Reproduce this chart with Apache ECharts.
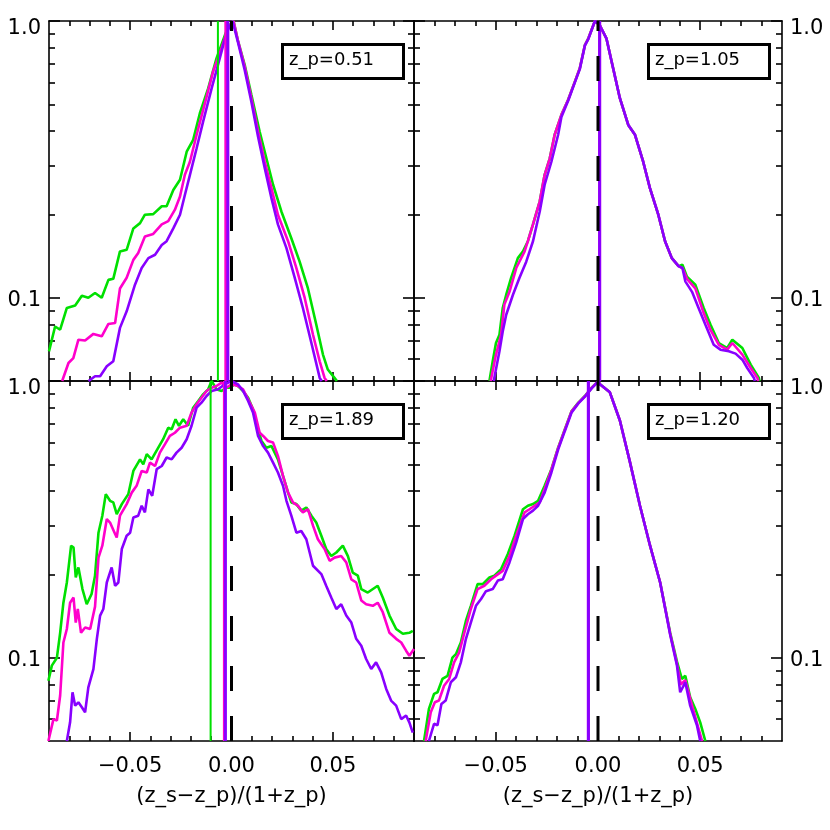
<!DOCTYPE html>
<html>
<head>
<meta charset="utf-8">
<script src="https://cdn.jsdelivr.net/npm/echarts@6/dist/echarts.min.js"></script>
<style>html,body{margin:0;padding:0;background:#fff}#c{width:830px;height:830px}</style>
</head>
<body>
<div id="c"></div>
<script>
// ---- tick values / labels ----
const xMajorTicks = [-0.05, 0, 0.05];
const xMinorTicks = [-0.08,-0.07,-0.06,-0.04,-0.03,-0.02,-0.01,0.01,0.02,0.03,0.04,0.06,0.07,0.08];
const yMajorTicks = [0.1, 1];
const yMinorTicks = [0.06,0.07,0.08,0.09,0.2,0.3,0.4,0.5,0.6,0.7,0.8,0.9];
const xTitle = '(z_s\u2212z_p)/(1+z_p)';
const panelLabels = ['z_p=0.51', 'z_p=1.05', 'z_p=1.89', 'z_p=1.20'];
const seriesColors = ['#00E000', '#FF00CC', '#8800FF'];

// ---- panel 1 (z_p=0.51) ----
const p1Green = [[-0.090,0.064],[-0.087,0.0787],[-0.0845,0.0766],[-0.0812,0.0918],[-0.0771,0.0938],[-0.0738,0.1016],[-0.0706,0.100],[-0.0673,0.104],[-0.064,0.100],[-0.0607,0.116],[-0.0583,0.117],[-0.055,0.147],[-0.0517,0.149],[-0.0484,0.178],[-0.0451,0.186],[-0.0427,0.1995],[-0.0386,0.2005],[-0.0344,0.214],[-0.032,0.214],[-0.0287,0.245],[-0.0254,0.267],[-0.0221,0.337],[-0.0189,0.372],[-0.0156,0.464],[-0.0115,0.571],[-0.0074,0.733],[-0.0041,0.854],[-0.0017,0.954],[0.001,1.0],[0.0033,0.842],[0.0065,0.694],[0.0098,0.541],[0.0139,0.398],[0.0172,0.319],[0.0205,0.256],[0.0246,0.205],[0.0295,0.164],[0.0336,0.135],[0.0377,0.108],[0.0418,0.080],[0.0451,0.0623],[0.0475,0.055],[0.0508,0.0513],[0.052,0.05]];
const p1Magenta = [[-0.0835,0.05],[-0.0804,0.0581],[-0.078,0.0605],[-0.0755,0.0705],[-0.0722,0.070],[-0.0681,0.074],[-0.064,0.0725],[-0.0607,0.0804],[-0.0574,0.081],[-0.055,0.108],[-0.0517,0.118],[-0.0484,0.137],[-0.046,0.145],[-0.0427,0.1665],[-0.0386,0.170],[-0.0344,0.184],[-0.0312,0.189],[-0.0279,0.208],[-0.0254,0.232],[-0.023,0.278],[-0.0205,0.310],[-0.0172,0.388],[-0.0131,0.505],[-0.0091,0.656],[-0.0049,0.797],[-0.0017,0.941],[0.001,1.0],[0.0033,0.842],[0.0065,0.684],[0.0098,0.526],[0.0131,0.398],[0.0164,0.310],[0.0197,0.249],[0.0229,0.1995],[0.0279,0.160],[0.032,0.128],[0.0361,0.0998],[0.0402,0.0735],[0.0435,0.0589],[0.0459,0.0513],[0.047,0.05]];
const p1Purple = [[-0.0705,0.05],[-0.0673,0.052],[-0.0648,0.052],[-0.0615,0.0565],[-0.0583,0.0589],[-0.055,0.0778],[-0.0517,0.0893],[-0.0476,0.1114],[-0.0443,0.128],[-0.041,0.139],[-0.0377,0.143],[-0.0344,0.155],[-0.032,0.160],[-0.0287,0.178],[-0.0254,0.1995],[-0.023,0.235],[-0.0205,0.278],[-0.0172,0.347],[-0.014,0.433],[-0.0098,0.571],[-0.0058,0.733],[-0.0025,0.903],[0.0005,1.0],[0.0033,0.831],[0.0065,0.665],[0.0098,0.511],[0.0131,0.382],[0.0164,0.294],[0.0197,0.229],[0.0229,0.184],[0.0271,0.151],[0.0312,0.118],[0.0352,0.0918],[0.0394,0.0686],[0.0435,0.0513],[0.0445,0.05]];
const p1Peaks = [-0.0067, -0.0028, -0.0018];

// ---- panel 2 (z_p=1.05) ----
const p2Green = [[-0.0531,0.05],[-0.0515,0.0589],[-0.0499,0.0686],[-0.0482,0.0735],[-0.0466,0.0918],[-0.0449,0.1025],[-0.0425,0.118],[-0.0392,0.139],[-0.0367,0.147],[-0.0343,0.160],[-0.0318,0.184],[-0.0285,0.223],[-0.0261,0.278],[-0.0236,0.319],[-0.0212,0.388],[-0.0179,0.458],[-0.0146,0.519],[-0.0113,0.604],[-0.0089,0.675],[-0.0064,0.819],[-0.0047,0.866],[-0.0015,1.0],[0.0008,0.967],[0.0041,0.866],[0.0074,0.675],[0.0107,0.526],[0.0148,0.421],[0.0181,0.388],[0.0221,0.310],[0.0254,0.249],[0.0295,0.1995],[0.0328,0.160],[0.0361,0.139],[0.0394,0.130],[0.0413,0.1315],[0.0435,0.119],[0.0476,0.1114],[0.0517,0.0918],[0.055,0.080],[0.0591,0.0686],[0.0632,0.0658],[0.0657,0.0705],[0.0706,0.0658],[0.0747,0.0573],[0.0787,0.0513],[0.079,0.05]];
const p2Magenta = [[-0.0525,0.05],[-0.0499,0.0623],[-0.0474,0.0735],[-0.0458,0.0944],[-0.0433,0.105],[-0.040,0.128],[-0.0359,0.147],[-0.0343,0.160],[-0.0318,0.184],[-0.0285,0.223],[-0.0261,0.278],[-0.0236,0.319],[-0.0212,0.388],[-0.0179,0.458],[-0.0146,0.519],[-0.0113,0.604],[-0.0089,0.675],[-0.0064,0.819],[-0.0047,0.866],[-0.0015,1.0],[0.0008,0.967],[0.0041,0.866],[0.0074,0.675],[0.0107,0.526],[0.0148,0.421],[0.0181,0.388],[0.0221,0.310],[0.0254,0.249],[0.0295,0.1995],[0.0328,0.160],[0.0361,0.139],[0.0394,0.130],[0.0413,0.128],[0.0435,0.117],[0.0476,0.108],[0.0517,0.088],[0.055,0.0766],[0.0591,0.0676],[0.0632,0.0649],[0.0657,0.0686],[0.0706,0.0623],[0.0747,0.0557],[0.078,0.0513],[0.0783,0.05]];
const p2Purple = [[-0.051,0.05],[-0.0482,0.064],[-0.0466,0.0755],[-0.0449,0.0868],[-0.0416,0.1025],[-0.0384,0.118],[-0.0351,0.135],[-0.0318,0.160],[-0.0285,0.205],[-0.0261,0.256],[-0.0228,0.310],[-0.0195,0.388],[-0.0179,0.450],[-0.0146,0.515],[-0.0113,0.600],[-0.0089,0.670],[-0.0064,0.815],[-0.0047,0.862],[-0.0015,1.0],[0.0008,0.967],[0.0041,0.866],[0.0074,0.675],[0.0107,0.526],[0.0148,0.421],[0.0181,0.388],[0.0221,0.310],[0.0254,0.249],[0.0295,0.1995],[0.0328,0.160],[0.0361,0.139],[0.0394,0.130],[0.0413,0.128],[0.0427,0.1146],[0.046,0.105],[0.0492,0.0918],[0.0525,0.080],[0.0566,0.0676],[0.0599,0.0649],[0.064,0.064],[0.0673,0.0628],[0.0706,0.0597],[0.073,0.0557],[0.0763,0.0513],[0.0767,0.05]];
const p2Peaks = [0.0008, 0.0008, 0.0008];

// ---- panel 3 (z_p=1.89) ----
const p3Green = [[-0.0903,0.0826],[-0.0886,0.0936],[-0.0861,0.100],[-0.0845,0.123],[-0.0829,0.158],[-0.0812,0.187],[-0.0791,0.254],[-0.0779,0.250],[-0.0768,0.195],[-0.0755,0.212],[-0.0735,0.177],[-0.0714,0.156],[-0.069,0.170],[-0.0673,0.198],[-0.0656,0.283],[-0.0637,0.326],[-0.062,0.390],[-0.0599,0.369],[-0.0583,0.364],[-0.0566,0.330],[-0.0541,0.359],[-0.0509,0.390],[-0.0484,0.473],[-0.0451,0.521],[-0.0435,0.500],[-0.0418,0.544],[-0.0394,0.521],[-0.0361,0.574],[-0.0337,0.616],[-0.0312,0.678],[-0.0295,0.669],[-0.0276,0.727],[-0.0259,0.689],[-0.0238,0.727],[-0.0214,0.689],[-0.0189,0.801],[-0.0164,0.847],[-0.014,0.895],[-0.0115,0.933],[-0.0098,1.0],[-0.0074,0.933],[-0.0049,0.920],[-0.0025,0.946],[-0.0008,0.946],[0.0016,0.973],[0.0032,0.959],[0.0057,0.920],[0.0082,0.870],[0.0106,0.790],[0.0131,0.669],[0.0148,0.607],[0.0172,0.574],[0.0197,0.582],[0.0229,0.521],[0.0254,0.454],[0.0279,0.395],[0.0295,0.364],[0.032,0.359],[0.0344,0.340],[0.0369,0.349],[0.0394,0.326],[0.0418,0.308],[0.0443,0.276],[0.0467,0.247],[0.0492,0.233],[0.0517,0.240],[0.0549,0.254],[0.0574,0.233],[0.0598,0.203],[0.0623,0.198],[0.064,0.177],[0.0672,0.172],[0.0721,0.182],[0.0746,0.165],[0.0779,0.142],[0.0812,0.127],[0.0845,0.122],[0.0877,0.123],[0.0894,0.125]];
const p3Magenta = [[-0.0903,0.05],[-0.0878,0.060],[-0.0861,0.0593],[-0.0845,0.073],[-0.0829,0.1135],[-0.0812,0.127],[-0.0796,0.158],[-0.0779,0.165],[-0.0768,0.134],[-0.0758,0.150],[-0.0742,0.123],[-0.0722,0.1285],[-0.0697,0.127],[-0.0673,0.153],[-0.0656,0.230],[-0.0637,0.254],[-0.0615,0.317],[-0.0599,0.308],[-0.0574,0.280],[-0.0566,0.272],[-0.055,0.326],[-0.0517,0.359],[-0.0492,0.395],[-0.0468,0.418],[-0.0443,0.473],[-0.0418,0.467],[-0.0402,0.507],[-0.0377,0.493],[-0.0353,0.551],[-0.0328,0.591],[-0.0304,0.633],[-0.0279,0.650],[-0.0254,0.678],[-0.0221,0.689],[-0.0197,0.769],[-0.0172,0.824],[-0.0148,0.870],[-0.0123,0.920],[-0.0098,0.946],[-0.0074,0.959],[-0.0049,0.986],[-0.0025,0.946],[0.0,0.973],[0.0032,0.959],[0.0057,0.933],[0.0082,0.859],[0.0115,0.769],[0.0139,0.650],[0.0156,0.633],[0.018,0.607],[0.0205,0.599],[0.0229,0.536],[0.0254,0.454],[0.0279,0.395],[0.0303,0.364],[0.0328,0.354],[0.0352,0.335],[0.0377,0.344],[0.0402,0.300],[0.0426,0.268],[0.0459,0.247],[0.0484,0.224],[0.0508,0.230],[0.0541,0.233],[0.0566,0.221],[0.0591,0.192],[0.0615,0.187],[0.064,0.161],[0.0664,0.156],[0.0697,0.154],[0.0721,0.158],[0.0746,0.146],[0.0779,0.123],[0.0812,0.117],[0.0837,0.1135],[0.0861,0.106],[0.0877,0.1016],[0.090,0.1075]];
const p3Purple = [[-0.0812,0.05],[-0.0796,0.0584],[-0.0784,0.075],[-0.0771,0.0671],[-0.0755,0.069],[-0.0738,0.0662],[-0.0722,0.0635],[-0.0706,0.0781],[-0.0681,0.091],[-0.0664,0.117],[-0.0648,0.142],[-0.0632,0.150],[-0.0615,0.187],[-0.0591,0.212],[-0.0574,0.182],[-0.0558,0.187],[-0.0541,0.247],[-0.0517,0.276],[-0.050,0.283],[-0.0484,0.321],[-0.046,0.326],[-0.0443,0.354],[-0.0427,0.335],[-0.041,0.406],[-0.0391,0.385],[-0.0369,0.480],[-0.0344,0.493],[-0.032,0.529],[-0.0295,0.521],[-0.0271,0.551],[-0.0246,0.574],[-0.0221,0.616],[-0.0197,0.689],[-0.0172,0.801],[-0.0148,0.835],[-0.0123,0.883],[-0.0098,0.920],[-0.0066,0.933],[-0.0033,0.973],[0.0,1.0],[0.0032,0.973],[0.0057,0.920],[0.0082,0.847],[0.0106,0.769],[0.0131,0.633],[0.0156,0.582],[0.018,0.551],[0.0205,0.507],[0.0229,0.467],[0.0254,0.418],[0.0271,0.369],[0.0295,0.326],[0.032,0.283],[0.0344,0.287],[0.0369,0.268],[0.0402,0.215],[0.0443,0.2005],[0.0467,0.182],[0.0492,0.165],[0.0517,0.150],[0.0541,0.156],[0.0566,0.142],[0.0591,0.134],[0.0615,0.117],[0.064,0.1105],[0.0664,0.0989],[0.0689,0.091],[0.0713,0.0962],[0.0738,0.0885],[0.0763,0.0771],[0.0787,0.070],[0.0812,0.0671],[0.0837,0.060],[0.0861,0.0618],[0.0877,0.0584],[0.0894,0.0536]];
const p3Peaks = [-0.0103, -0.0035, -0.0030];

// ---- panel 4 (z_p=1.20) ----
const p4Green = [[-0.0851,0.05],[-0.0827,0.0653],[-0.0802,0.074],[-0.0785,0.075],[-0.0761,0.0838],[-0.0736,0.086],[-0.0712,0.100],[-0.0695,0.103],[-0.0671,0.1135],[-0.0646,0.136],[-0.0622,0.154],[-0.0589,0.1845],[-0.0564,0.1845],[-0.0531,0.195],[-0.0507,0.198],[-0.0474,0.209],[-0.0441,0.237],[-0.0408,0.276],[-0.0367,0.344],[-0.0343,0.354],[-0.0318,0.359],[-0.0293,0.369],[-0.0261,0.418],[-0.0228,0.480],[-0.0195,0.574],[-0.0162,0.669],[-0.0129,0.779],[-0.0096,0.835],[-0.0064,0.883],[-0.0031,0.946],[0.0003,1.0],[0.0008,0.975],[0.0058,0.91],[0.0107,0.72],[0.0156,0.51],[0.0205,0.355],[0.0254,0.255],[0.0304,0.187],[0.0353,0.123],[0.0386,0.097],[0.041,0.0838],[0.0427,0.086],[0.0451,0.072],[0.0476,0.0653],[0.050,0.0584],[0.0525,0.05]];
const p4Magenta = [[-0.0843,0.05],[-0.0818,0.0635],[-0.0798,0.069],[-0.0778,0.070],[-0.0753,0.0792],[-0.0728,0.0838],[-0.0704,0.0962],[-0.0679,0.1045],[-0.0654,0.123],[-0.0622,0.150],[-0.0589,0.177],[-0.0556,0.182],[-0.0523,0.192],[-0.0499,0.198],[-0.0466,0.206],[-0.0433,0.233],[-0.040,0.276],[-0.0359,0.335],[-0.0335,0.344],[-0.031,0.354],[-0.0285,0.364],[-0.0261,0.406],[-0.0228,0.478],[-0.0195,0.572],[-0.0162,0.667],[-0.0129,0.777],[-0.0096,0.833],[-0.0064,0.881],[-0.0031,0.944],[0.0003,1.0],[0.0008,0.975],[0.0058,0.91],[0.0107,0.72],[0.0156,0.51],[0.0205,0.355],[0.0254,0.255],[0.0304,0.187],[0.0353,0.122],[0.0386,0.095],[0.0405,0.080],[0.0427,0.083],[0.046,0.0671],[0.0509,0.05]];
const p4Purple = [[-0.0827,0.05],[-0.0802,0.0577],[-0.0785,0.057],[-0.0766,0.068],[-0.0745,0.070],[-0.072,0.0815],[-0.0695,0.085],[-0.0671,0.0962],[-0.0646,0.117],[-0.0622,0.134],[-0.0597,0.154],[-0.0572,0.163],[-0.0548,0.174],[-0.0515,0.177],[-0.049,0.190],[-0.0466,0.192],[-0.0433,0.221],[-0.040,0.261],[-0.0367,0.317],[-0.0343,0.330],[-0.0318,0.340],[-0.0293,0.354],[-0.0261,0.395],[-0.0228,0.467],[-0.0195,0.565],[-0.0162,0.66],[-0.0129,0.77],[-0.0096,0.83],[-0.0064,0.878],[-0.0031,0.94],[0.0003,1.0],[0.0008,0.975],[0.0058,0.91],[0.0107,0.72],[0.0156,0.51],[0.0205,0.355],[0.0254,0.255],[0.0304,0.187],[0.0353,0.121],[0.0386,0.094],[0.0402,0.075],[0.0427,0.0815],[0.0451,0.0671],[0.0484,0.057],[0.050,0.05]];
const p4Peaks = [-0.0047, -0.0047, -0.0047];

const panels = [
  {curves: [p1Green, p1Magenta, p1Purple], peaks: p1Peaks},
  {curves: [p2Green, p2Magenta, p2Purple], peaks: p2Peaks},
  {curves: [p3Green, p3Magenta, p3Purple], peaks: p3Peaks},
  {curves: [p4Green, p4Magenta, p4Purple], peaks: p4Peaks}
];
const X_MIN = -0.09, X_MAX = 0.09, Y_MIN = 0.05, Y_MAX = 1;

// ---- layout ----
const FONT = 'DejaVu Sans';
const gridBoxes = [
  {left: 49, top: 21, width: 365, height: 360},
  {left: 414, top: 21, width: 368, height: 360},
  {left: 49, top: 381, width: 365, height: 360},
  {left: 414, top: 381, width: 368, height: 360}
];
const boxPos = [[281, 43], [647, 43], [281, 403], [647, 403]];

const lineSty = {color: '#000', width: 1.6};
function xFmt(v) { return (v < 0 ? '\u2212' : '') + Math.abs(v).toFixed(2); }
function yFmt(v) { return v > 0.5 ? '{t|1.0}' : '{b|0.1}'; }

const xAxes = [], yAxes = [], series = [], graphics = [];
gridBoxes.forEach((g, gi) => {
  const bottomRow = gi >= 2, leftCol = gi % 2 === 0;
  const mkX = (pos, ticks, len, main, labels) => ({
    type: 'value', gridIndex: gi, min: X_MIN, max: X_MAX, position: pos,
    axisLine: {show: main, onZero: false, lineStyle: lineSty},
    axisTick: {show: true, inside: true, length: len, customValues: ticks, lineStyle: lineSty},
    axisLabel: labels ? {show: true, customValues: xMajorTicks, formatter: xFmt, margin: 15,
      fontFamily: FONT, fontSize: 21, color: '#000'} : {show: false},
    splitLine: {show: false},
    name: labels ? xTitle : '', nameLocation: 'middle', nameGap: 45,
    nameTextStyle: {fontFamily: FONT, fontSize: 21, color: '#000'}
  });
  xAxes.push(mkX('bottom', xMajorTicks, 9, true, bottomRow));
  xAxes.push(mkX('bottom', xMinorTicks, 5, false, false));
  xAxes.push(mkX('top', xMajorTicks, 9, true, false));
  xAxes.push(mkX('top', xMinorTicks, 5, false, false));
  const mkY = (pos, ticks, len, main, labels) => ({
    type: 'log', logBase: 10, gridIndex: gi, min: Y_MIN, max: Y_MAX, position: pos,
    axisLine: {show: main, onZero: false, lineStyle: lineSty},
    axisTick: {show: true, inside: true, length: len, customValues: ticks, lineStyle: lineSty},
    axisLabel: labels ? {show: true, customValues: yMajorTicks, formatter: yFmt, margin: 8,
      color: '#000', fontFamily: FONT, fontSize: 21,
      rich: {t: {fontFamily: FONT, fontSize: 21, color: '#000', padding: [15, 0, 0, 0]},
             b: {fontFamily: FONT, fontSize: 21, color: '#000', padding: [5, 0, 0, 0]}}} : {show: false},
    splitLine: {show: false}
  });
  yAxes.push(mkY('left', yMajorTicks, 11, true, leftCol));
  yAxes.push(mkY('left', yMinorTicks, 6, false, false));
  yAxes.push(mkY('right', yMajorTicks, 11, true, !leftCol));
  yAxes.push(mkY('right', yMinorTicks, 6, false, false));

  const xi = gi * 4, yi = gi * 4;
  const p = panels[gi];
  p.curves.forEach((d, ci) => {
    series.push({type: 'line', xAxisIndex: xi, yAxisIndex: yi, data: d, symbol: 'none',
      lineStyle: {color: seriesColors[ci], width: 2.6}, silent: true, z: 2 + ci});
  });
  p.peaks.forEach((xv, ci) => {
    series.push({type: 'line', xAxisIndex: xi, yAxisIndex: yi, data: [[xv, Y_MIN], [xv, Y_MAX]], symbol: 'none',
      lineStyle: {color: seriesColors[ci], width: ci === 0 ? 2 : 3}, silent: true, z: 5 + ci});
  });
  series.push({type: 'line', xAxisIndex: xi, yAxisIndex: yi, data: [[0, Y_MIN], [0, Y_MAX]], symbol: 'none',
    lineStyle: {color: '#000', width: 3, type: [25, 25]}, silent: true, z: 9});

  const [bx, by] = boxPos[gi];
  graphics.push({type: 'rect', left: bx, top: by, shape: {width: 121, height: 34},
    style: {fill: '#fff', stroke: '#000', lineWidth: 3}, z: 100});
  graphics.push({type: 'text', left: bx + 8, top: by + 8,
    style: {text: panelLabels[gi], fill: '#000', font: '18px "DejaVu Sans"'}, z: 101});
});

const chart = echarts.init(document.getElementById('c'), null, {renderer: 'canvas'});
chart.setOption({
  animation: false,
  backgroundColor: '#fff',
  grid: gridBoxes.map(g => Object.assign({containLabel: false}, g)),
  xAxis: xAxes,
  yAxis: yAxes,
  series: series,
  graphic: graphics
});
</script>
</body>
</html>
